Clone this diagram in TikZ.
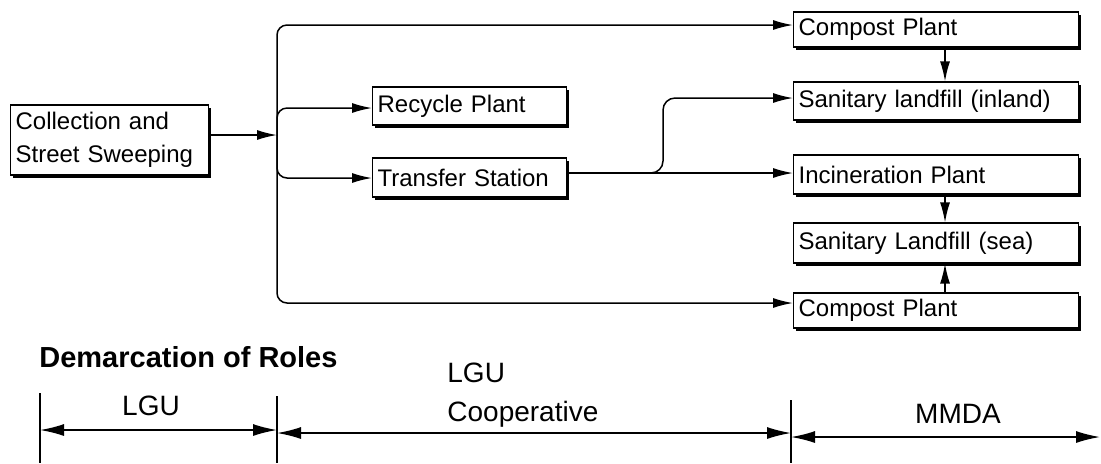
\documentclass[tikz,border=0pt]{standalone}
\usepackage{fontspec}
\setmainfont{Liberation Sans}
\usetikzlibrary{arrows.meta,shadows}
\begin{document}
\begin{tikzpicture}[x=0.5pt,y=-0.5pt,
  pbox/.style={draw, line width=0.6pt, fill=white, align=left, anchor=west,
    inner xsep=2.5pt, inner ysep=0pt, font=\fontsize{12}{16.5}\selectfont,
    drop shadow={shadow xshift=1pt, shadow yshift=-1.5pt, opacity=1, fill=black}},
  arr/.style={line width=0.75pt, -{Latex[length=10pt,width=5pt]}},
  dbl/.style={line width=0.75pt, {Latex[length=12pt,width=6pt]}-{Latex[length=12pt,width=6pt]}},
  tickline/.style={line width=0.7pt},
  lab/.style={font=\fontsize{14}{19.5}\selectfont, inner sep=0pt}
]
\useasboundingbox (0,0) rectangle (1101,463);

% boxes
\node[pbox, text width=94pt, minimum height=35pt] (coll) at (10,140) {Collection and\\Street Sweeping};
\node[pbox, text width=92pt, minimum height=19pt] (recycle) at (372,106) {Recycle Plant};
\node[pbox, text width=92pt, minimum height=19.5pt] (transfer) at (372,177.5) {Transfer Station};
\node[pbox, text width=137.5pt, minimum height=17.5pt] (compost1) at (793,29.5) {Compost Plant};
\node[pbox, text width=137.5pt, minimum height=19pt] (inland) at (793,101) {Sanitary landfill (inland)};
\node[pbox, text width=137.5pt, minimum height=19.5pt] (incin) at (793,174.5) {Incineration Plant};
\node[pbox, text width=137.5pt, minimum height=20pt] (sea) at (793,243) {Sanitary Landfill (sea)};
\node[pbox, text width=137.5pt, minimum height=17.5pt] (compost2) at (793,310.5) {Compost Plant};

% helper coordinates
\coordinate (bus) at (277,135);
\coordinate (rtop) at (0,25);
\coordinate (rbot) at (0,303);
\coordinate (rrec) at (0,108);
\coordinate (rtra) at (0,178);
\coordinate (split) at (663,173);
\coordinate (rinl) at (0,98);
\coordinate (ax) at (945,0);

% connectors
\draw[arr] (coll.east |- bus) -- (bus);
\draw[arr, rounded corners=5pt] (bus) |- (compost1.west |- rtop);
\draw[arr, rounded corners=5pt] (bus) |- (compost2.west |- rbot);
\draw[arr, rounded corners=5pt] (bus) |- (recycle.west |- rrec);
\draw[arr, rounded corners=5pt] (bus) |- (transfer.west |- rtra);
\draw[arr] (transfer.east |- split) -- (incin.west |- split);
\draw[arr, rounded corners=6pt] (transfer.east |- split) -| (split |- rinl) -- (inland.west |- rinl);
\draw[arr] (compost1.south -| ax) -- (inland.north -| ax);
\draw[arr] (incin.south -| ax) -- (sea.north -| ax);
\draw[arr] (compost2.north -| ax) -- (sea.south -| ax);

% demarcation
\node[font=\bfseries\fontsize{14.5}{17}\selectfont, anchor=base west, inner sep=0pt] (dem) at (39,367) {Demarcation of Roles};
\coordinate (k1t) at (40,393);  \coordinate (k1b) at (40,463);
\coordinate (k2t) at (277,396); \coordinate (k2b) at (277,463);
\coordinate (k3t) at (791,400); \coordinate (k3b) at (791,463);
\coordinate (rend) at (1100,437);
\coordinate (ay1) at (0,430);
\coordinate (ay2) at (0,433);
\coordinate (ay3) at (0,437);
\draw[tickline] (k1t) -- (k1b);
\draw[tickline] (k2t) -- (k2b);
\draw[tickline] (k3t) -- (k3b);
\draw[dbl] (k1b |- ay1) -- (k2b |- ay1);
\draw[dbl] (k2b |- ay2) -- (k3b |- ay2);
\draw[dbl] (k3b |- ay3) -- (rend);

\node[lab] (lgu) at (151,406) {LGU};
\node[lab, align=left, anchor=north west] (coop) at (447,363) {LGU\\Cooperative};
\node[lab] (mmda) at (958,414) {MMDA};
\end{tikzpicture}
\end{document}
